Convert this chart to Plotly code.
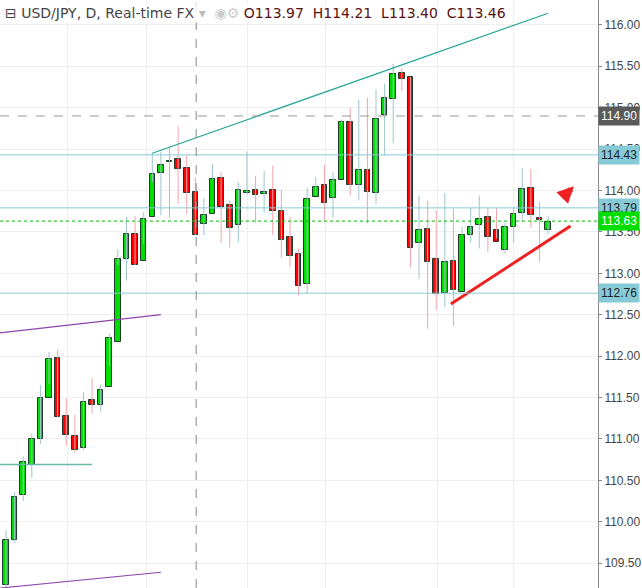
import plotly.graph_objects as go

opens  = [109.24,109.78,110.32,110.69,111.00,111.49,111.98,111.28,111.04,110.89,111.47,111.41,111.63,112.17,113.17,113.48,113.15,113.68,114.21,114.34,114.38,114.27,113.98,113.60,113.72,114.15,113.83,113.58,113.97,114.00,113.96,114.00,113.75,113.44,113.23,112.87,113.92,114.07,113.91,114.13,114.83,114.07,114.25,113.97,114.91,115.11,115.42,115.37,113.36,113.54,113.17,112.76,113.15,112.78,113.46,113.58,113.68,113.52,113.28,113.56,113.73,114.03,113.67,113.52]
closes = [109.78,110.30,110.72,111.00,111.49,111.97,111.27,111.05,110.87,111.45,111.41,111.59,112.22,113.17,113.47,113.10,113.66,114.20,114.31,114.36,114.26,113.97,113.46,113.70,114.14,113.80,113.55,114.00,113.98,113.95,113.98,113.75,113.40,113.21,112.85,113.90,114.04,113.85,114.13,114.83,114.07,114.25,113.98,114.86,115.12,115.41,115.35,113.31,113.52,113.14,112.75,113.14,112.80,113.46,113.56,113.66,113.44,113.38,113.56,113.72,114.02,113.70,113.64,113.62]
highs  = [109.90,110.36,110.79,111.07,111.65,112.05,112.08,111.49,111.29,111.57,111.74,111.66,112.27,113.29,113.68,113.69,113.74,114.45,114.47,114.53,114.78,114.43,114.16,113.91,114.32,114.22,113.88,114.10,114.47,114.17,114.24,114.30,114.01,113.68,113.30,114.03,114.16,114.31,114.22,114.86,115.00,115.10,115.12,115.22,115.29,115.53,115.48,115.37,113.94,113.88,113.76,113.97,113.78,113.56,113.79,113.94,113.80,113.79,113.61,113.79,114.27,114.26,113.86,113.69]
lows   = [109.20,109.75,110.25,110.53,110.94,111.66,111.26,110.92,110.83,110.87,111.31,111.33,111.88,113.10,112.91,113.10,113.35,114.10,113.70,113.67,113.84,113.72,113.46,113.46,114.14,113.37,113.31,113.37,113.95,113.61,113.73,113.46,113.19,113.08,112.73,112.76,113.95,113.64,113.67,114.80,113.94,113.88,113.60,113.83,114.42,114.57,115.20,113.07,112.93,112.33,112.55,112.59,112.36,113.46,113.37,113.30,113.26,113.42,113.24,113.37,113.63,113.55,113.14,113.47]

x = list(range(len(opens)))
y_ticks = [109.5 + 0.5*k for k in range(14)]
x_grid = [7.2, 16.3, 28.1, 37.1, 50.1, 59.0]
level_lines = [114.43, 113.79, 112.76]
dashed_level = 114.90
last_price = 113.63
crosshair_x = 22.1
teal_line = ([17.0, 63.0], [114.45, 116.14])
red_line = ([51.7, 65.6], [112.63, 113.57])
purple1 = ([-0.7, 18.0], [112.28, 112.50])
purple2 = ([-0.7, 18.0], [109.20, 109.39])
green_h = ([-0.7, 10.0], [110.69, 110.69])

fig = go.Figure()
for up, col in [(True, '#9fc6cc'), (False, '#f3a3ad')]:
    wx, wy = [], []
    for i in x:
        if (closes[i] >= opens[i]) == up:
            wx += [i, i, None]; wy += [lows[i], highs[i], None]
    fig.add_trace(go.Scatter(x=wx, y=wy, mode='lines', line=dict(color=col, width=1), hoverinfo='skip'))
base = [min(o, c) for o, c in zip(opens, closes)]
hgt = [max(abs(c - o), 0.02) for o, c in zip(opens, closes)]
cols = ['#00dd00' if c >= o else '#ff0000' for o, c in zip(opens, closes)]
fig.add_trace(go.Bar(x=x, y=hgt, base=base, width=0.65, marker=dict(color=cols, line=dict(color='#1e3b2a', width=1))))

for xs, ys, col, w in [(teal_line[0], teal_line[1], '#26a69a', 1.2), (red_line[0], red_line[1], '#ee2222', 3),
                       (purple1[0], purple1[1], '#8e44ad', 1.2), (purple2[0], purple2[1], '#8e44ad', 1.2),
                       (green_h[0], green_h[1], '#66b8a8', 1.5)]:
    fig.add_trace(go.Scatter(x=xs, y=ys, mode='lines', line=dict(color=col, width=w), hoverinfo='skip'))

for lv in level_lines:
    fig.add_hline(y=lv, line=dict(color='#86cad8', width=1))
fig.add_hline(y=dashed_level, line=dict(color='#999999', width=1, dash='dash'))
fig.add_hline(y=last_price, line=dict(color='#00bb00', width=1, dash='dot'))
fig.add_vline(x=crosshair_x, line=dict(color='#888888', width=1, dash='dash'))

def tag(v, bg, fc):
    fig.add_annotation(x=1, xref='paper', y=v, yref='y', text=f'{v:.2f}', showarrow=False, xanchor='left',
                       xshift=0, bgcolor=bg, font=dict(color=fc, size=12, family='Arial'), borderpad=2)
tag(dashed_level, '#5a5a5a', 'white')
for lv in level_lines:
    tag(lv, '#86cad8', '#222222')
tag(last_price, '#00dd00', 'white')

fig.add_annotation(x=66.0, y=114.05, ax=-13, ay=13, showarrow=True, arrowhead=2, arrowsize=0.55,
                   arrowwidth=6, arrowcolor='#ee2222', text='')
fig.add_annotation(x=0.005, xref='paper', y=0.995, yref='paper', xanchor='left', yanchor='top', showarrow=False,
                   text='⊟ USD/JPY, D, Real-time FX <span style="color:#bbb">▾</span>  <span style="color:#ccc">◉⚙</span> <span style="color:#5a1010">O113.97  H114.21  L113.40  C113.46</span>',
                   font=dict(size=14, color='#444', family='DejaVu Sans'), bgcolor='rgba(255,255,255,0.8)')

fig.update_layout(width=642, height=588, margin=dict(l=0, r=44, t=0, b=0, autoexpand=False), plot_bgcolor='white',
                  paper_bgcolor='white', showlegend=False, bargap=0)
fig.update_xaxes(range=[-0.7, 68.8], tickvals=x_grid, showticklabels=False, showgrid=True,
                 gridcolor='#eeeeee', zeroline=False)
fig.update_yaxes(range=[109.2, 116.3], side='right', tickvals=y_ticks, tickformat='.2f', showgrid=True,
                 gridcolor='#eeeeee', showline=True, linecolor='#888', zeroline=False,
                 tickfont=dict(size=12, color='#444', family='Arial'), ticks='outside', ticklen=3, tickcolor='#888')
fig.write_html('out.html', post_script="document.body.style.margin='0';", config={'displayModeBar': False})
